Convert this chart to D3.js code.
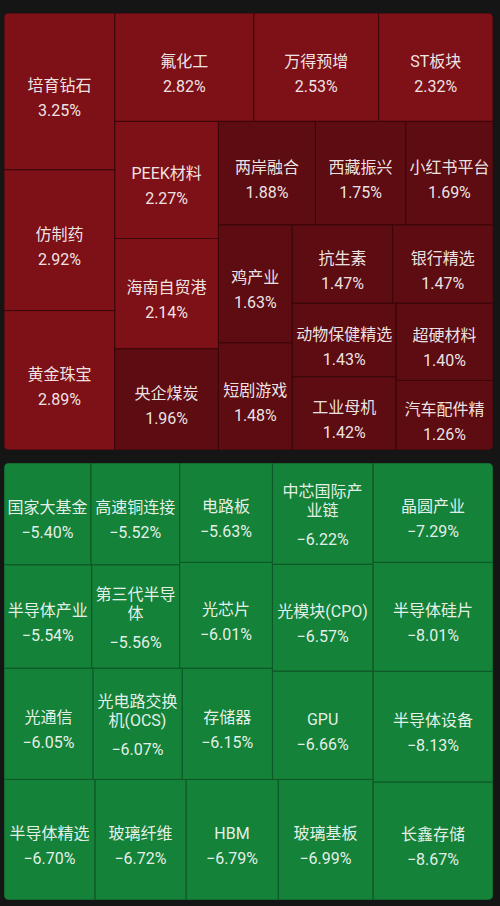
<!DOCTYPE html>
<html>
<head>
<meta charset="utf-8">
<script src="https://cdn.jsdelivr.net/npm/d3@7"></script>
<style>
  html, body { margin: 0; padding: 0; background: #151515; }
  svg { display: block; }
</style>
</head>
<body>
<div id="chart"></div>
<script>
// gainers (top panel), order as in the board
var gainNames = ["培育钻石", "仿制药", "黄金珠宝", "氟化工", "万得预增", "ST板块", "PEEK材料", "海南自贸港",
  "央企煤炭", "两岸融合", "西藏振兴", "小红书平台", "鸡产业", "短剧游戏", "抗生素", "银行精选",
  "动物保健精选", "工业母机", "超硬材料", "汽车配件精选"];
var gainValues = [3.25, 2.92, 2.89, 2.82, 2.53, 2.32, 2.27, 2.14, 1.96, 1.88, 1.75, 1.69, 1.63, 1.48,
  1.47, 1.47, 1.43, 1.42, 1.40, 1.26];

// losers (bottom panel)
var lossNames = ["长鑫存储", "半导体设备", "半导体硅片", "晶圆产业", "玻璃基板", "HBM", "玻璃纤维", "半导体精选",
  "GPU", "光模块(CPO)", "中芯国际产业链", "存储器", "光电路交换机(OCS)", "光通信", "光芯片", "电路板",
  "第三代半导体", "半导体产业", "高速铜连接", "国家大基金"];
var lossValues = [-8.67, -8.13, -8.01, -7.29, -6.99, -6.79, -6.72, -6.70, -6.66, -6.57, -6.22, -6.15,
  -6.07, -6.05, -6.01, -5.63, -5.56, -5.54, -5.52, -5.40];

var width = 500
 ,  height = 906
 ,  panelX = 4
 ,  panelW = 489
 ,  panelH = 437
 ,  fontSize = 16;

var fill = d3.scaleThreshold()
  .domain([-5, 0, 2])
  .range(["#15823a", "#1f8f45", "#5d0c12", "#7e1117"]);
var edge = d3.scaleThreshold()
  .domain([0])
  .range(["#0d5726", "#3b0709"]);

// same as d3.treemapSquarify but the ratio may go below 1
// (d3 clamps it to >= 1, the board packs rows a bit thinner)
function squarifyLoose(ratio) {
  return function(parent, x0, y0, x1, y1) {
    var nodes = parent.children
     ,  n = nodes.length
     ,  value = parent.value
     ,  i0 = 0, i1 = 0;
    while (i0 < n) {
      var dx = x1 - x0, dy = y1 - y0;
      var sumValue = nodes[i1++].value
       ,  minValue = sumValue
       ,  maxValue = sumValue
       ,  alpha = Math.max(dy / dx, dx / dy) / (value * ratio)
       ,  beta = sumValue * sumValue * alpha
       ,  minRatio = Math.max(maxValue / beta, beta / minValue);
      for (; i1 < n; ++i1) {
        var v = nodes[i1].value;
        sumValue += v;
        if (v < minValue) minValue = v;
        if (v > maxValue) maxValue = v;
        beta = sumValue * sumValue * alpha;
        var newRatio = Math.max(maxValue / beta, beta / minValue);
        if (newRatio > minRatio) { sumValue -= v; break; }
        minRatio = newRatio;
      }
      var row = {value: sumValue, children: nodes.slice(i0, i1)};
      if (dx < dy) d3.treemapDice(row, x0, y0, x1, y0 += dy * sumValue / value);
      else d3.treemapSlice(row, x0, y0, x0 += dx * sumValue / value, y1);
      value -= sumValue;
      i0 = i1;
    }
  };
}

var svg = d3.select("#chart").append("svg")
  .attr("width", width)
  .attr("height", height)
  .style("font-family", "Roboto, 'Noto Sans CJK SC', sans-serif");

function drawPanel(names, values, top, ratio, flip, id) {
  var root = d3.hierarchy({children: names.map(function(n, i) { return {name: n, value: values[i]}; })})
    .sum(function(d) { return d.children ? 0 : Math.abs(d.value); });

  d3.treemap()
    .tile(squarifyLoose(ratio))
    .size([panelW, panelH])(root);

  var leaves = root.leaves();
  if (flip) {
    // losers board is laid out from the bottom right corner
    leaves.forEach(function(d) {
      var x0 = panelW - d.x1, x1 = panelW - d.x0, y0 = panelH - d.y1, y1 = panelH - d.y0;
      d.x0 = x0; d.x1 = x1; d.y0 = y0; d.y1 = y1;
    });
  }

  svg.append("clipPath").attr("id", id)
    .append("rect")
      .attr("width", panelW)
      .attr("height", panelH)
      .attr("rx", 5);

  var g = svg.append("g")
    .attr("transform", "translate(" + panelX + "," + top + ")")
    .attr("clip-path", "url(#" + id + ")");

  var cell = g.selectAll(".cell").data(leaves)
    .enter().append("g")
      .attr("class", "cell");

  cell.append("rect")
    .attr("x", function(d) { return d.x0; })
    .attr("y", function(d) { return d.y0; })
    .attr("width", function(d) { return d.x1 - d.x0; })
    .attr("height", function(d) { return d.y1 - d.y0; })
    .attr("fill", function(d) { return fill(d.data.value); })
    .attr("stroke", function(d) { return edge(d.data.value); })
    .attr("stroke-width", 1);

  cell.each(function(d) {
    var c = d3.select(this)
     ,  w = d.x1 - d.x0
     ,  h = d.y1 - d.y0
     ,  cx = (d.x0 + d.x1) / 2
     ,  cy = (d.y0 + d.y1) / 2
     ,  maxW = w - 6
     ,  maxLines = h >= 90 ? 2 : 1;

    // wrap the name char by char
    var probe = c.append("text").attr("font-size", fontSize + "px");
    var lines = [], cur = "";
    Array.from(d.data.name).forEach(function(ch) {
      probe.text(cur + ch);
      if (cur && probe.node().getComputedTextLength() > maxW) {
        lines.push(cur);
        cur = ch;
      } else {
        cur += ch;
      }
    });
    if (cur) lines.push(cur);
    probe.remove();
    lines = lines.slice(0, maxLines);

    var n = lines.length
     ,  y0 = cy - 6 - 16 * (n - 1);

    lines.forEach(function(t, i) {
      c.append("text")
        .attr("x", cx)
        .attr("y", y0 + 19 * i)
        .attr("text-anchor", "middle")
        .attr("dominant-baseline", "central")
        .attr("font-size", fontSize + "px")
        .attr("fill", "rgba(255,255,255,0.9)")
        .text(t);
    });

    c.append("text")
      .attr("x", cx)
      .attr("y", y0 + 19 * (n - 1) + 25 + 4 * (n - 1))
      .attr("text-anchor", "middle")
      .attr("dominant-baseline", "central")
      .attr("font-size", fontSize + "px")
      .attr("fill", "rgba(255,255,255,0.9)")
      .text(d3.format(".2f")(d.data.value) + "%");
  });
}

drawPanel(gainNames, gainValues, 13, 0.9, false, "clipUp");
drawPanel(lossNames, lossValues, 463, 1, true, "clipDown");
</script>
</body>
</html>
